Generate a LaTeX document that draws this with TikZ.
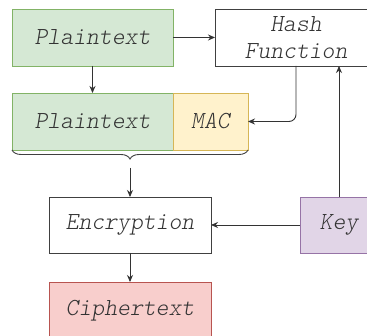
\documentclass[tikz,border=0pt]{standalone}
\usepackage{fontspec}
\newfontfamily\labelfont{lmmonolt10-oblique.otf}
\usetikzlibrary{arrows.meta,decorations.pathreplacing}
\definecolor{greenfill}{HTML}{D5E8D4}\definecolor{greenline}{HTML}{82B366}
\definecolor{yellowfill}{HTML}{FFF2CC}\definecolor{yellowline}{HTML}{D6B656}
\definecolor{purplefill}{HTML}{E1D5E7}\definecolor{purpleline}{HTML}{9673A6}
\definecolor{redfill}{HTML}{F8CECC}\definecolor{redline}{HTML}{B85450}
\definecolor{txt}{HTML}{333333}
\begin{document}
\begin{tikzpicture}[x=1pt,y=-1pt,
  box/.style={draw, line width=0.9pt, rectangle, inner sep=0pt, outer sep=0pt,
    font=\fontsize{24.5}{27}\labelfont, text=txt, align=center},
  greenbox/.style={box, fill=greenfill, draw=greenline},
  yellowbox/.style={box, fill=yellowfill, draw=yellowline},
  purplebox/.style={box, fill=purplefill, draw=purpleline},
  redbox/.style={box, fill=redfill, draw=redline},
  plainbox/.style={box, fill=white, draw=black!75},
  link/.style={draw=black!80, line width=0.9pt, -{Stealth[length=7pt,width=6pt]}, rounded corners=7pt}]
\useasboundingbox (0,0) rectangle (367,336);
\clip (0,0) rectangle (367,336);
\fill[white] (0,0) rectangle (367,336);

\node[greenbox, minimum width=161pt, minimum height=57pt] (pt1) at (92.5,37.5) {Plaintext};
\node[plainbox, minimum width=162pt, minimum height=57pt] (hash) at (296,37.5) {Hash\\Function};
\node[greenbox, minimum width=161pt, minimum height=57pt] (pt2) at (92.5,121.5) {Plaintext};
\node[yellowbox, minimum width=75pt, minimum height=57pt] (mac) at (210.5,121.5) {MAC};
\node[plainbox, minimum width=162pt, minimum height=56pt] (enc) at (130,225) {Encryption};
\node[purplebox, minimum width=78pt, minimum height=56pt] (key) at (339,225) {Key};
\node[redbox, minimum width=162pt, minimum height=57pt] (ct) at (130,310.5) {Ciphertext};

% brace spanning plaintext and MAC
\draw[draw=black!75, line width=0.9pt, decorate, decoration={brace, mirror, amplitude=9pt}]
  (pt2.south west) -- coordinate[midway] (bmid) (mac.south east);
\coordinate (btip) at ([yshift=-18pt]bmid);

\draw[link] (pt1.east) -- (hash.west);
\draw[link] (pt1.south) -- (pt2.south |- pt2.north);
\draw[link] (hash.south) |- (mac.east);
\draw[link] (key.north) -- (key.north |- hash.south);
\draw[link] (key.west) -- (enc.east);
\draw[link] (btip) -- (enc.north);
\draw[link] (enc.south) -- (ct.north);
\end{tikzpicture}
\end{document}
